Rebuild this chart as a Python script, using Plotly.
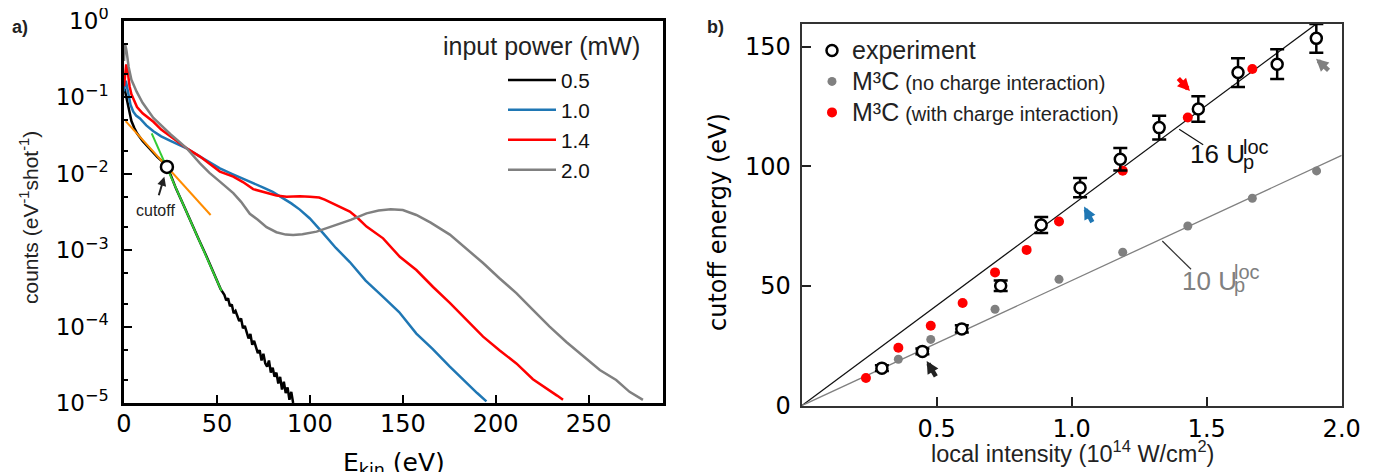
import plotly.graph_objects as go

# The page adds an 8 px body margin; the figure is sized so that it fills the window.
OFF = 8
W, H = 1369, 464


def px(x):
    return (x - OFF) / W


def py(y):
    return 1 - (y - OFF) / H


# ---------------- Panel a: photoelectron spectra ----------------
e_05 = [0.3, 1.0, 2.0, 3.0, 4.0, 5.5, 7, 10, 14, 18, 21, 23, 25, 28, 32, 36, 40, 44, 48, 52,
        54, 55, 56, 57, 58, 59, 60, 61, 62, 63, 64, 65, 66, 67, 68, 69, 70, 71, 72, 73, 74, 75,
        76, 77, 78, 79, 80, 81, 82, 83, 84, 85, 86, 87, 88, 89, 90, 91]
c_05 = [0.13, 0.11, 0.085, 0.062, 0.049, 0.040, 0.034, 0.027, 0.021, 0.0166, 0.0142, 0.0123,
        0.0098, 0.0064, 0.0039, 0.0023, 0.00142, 0.00087, 0.00053, 0.00031,
        2.6e-4, 2.2e-4, 2.35e-4, 1.85e-4, 1.95e-4, 1.5e-4, 1.6e-4, 1.35e-4, 1.18e-4, 1.28e-4,
        9.5e-5, 1.02e-4, 8.3e-5, 7.0e-5, 8.0e-5, 5.8e-5, 6.5e-5, 5.2e-5, 4.5e-5, 4.9e-5,
        3.6e-5, 4.4e-5, 3.3e-5, 3.0e-5, 3.6e-5, 2.5e-5, 2.9e-5, 2.2e-5, 2.5e-5, 1.8e-5,
        2.2e-5, 1.5e-5, 1.9e-5, 1.35e-5, 1.6e-5, 1.1e-5, 1.4e-5, 1.0e-5]

e_10 = [0.0, 0.5, 1.1, 2.3, 3.5, 5.0, 6.5, 8.6, 12, 15.8, 20, 25, 30, 33.7, 40.9, 46, 51.6,
        58, 63, 69.5, 75, 80, 85.6, 90, 94.6, 100, 107.2, 114, 121.5, 130, 139.4, 148, 157.3,
        166, 175.3, 184, 190, 195]
c_10 = [0.12, 0.16, 0.16, 0.107, 0.08, 0.065, 0.058, 0.053, 0.043, 0.036, 0.031, 0.027, 0.024,
        0.0216, 0.0168, 0.0142, 0.0118, 0.0100, 0.0089, 0.0076, 0.0066, 0.0058, 0.0048, 0.0041,
        0.0034, 0.0026, 0.00166, 0.00107, 0.00070, 0.00040, 0.000245, 0.000155, 0.000081,
        0.000051, 0.000030, 0.0000185, 0.0000135, 0.0000105]

e_14 = [0.0, 0.5, 1.2, 2.0, 3.0, 4.0, 5.0, 7, 10, 15.8, 20, 25, 30, 33.7, 40.9, 46, 51.6, 58.8,
        64, 69.5, 76.7, 82, 87.5, 94.6, 100, 105, 108, 112.5, 117, 121.5, 126, 130.5, 139.4,
        148.4, 157.3, 166.3, 175.3, 184, 193.2, 202, 211.1, 220, 229, 233, 236.2]
c_14 = [0.14, 0.2, 0.27, 0.22, 0.14, 0.11, 0.097, 0.075, 0.062, 0.048, 0.038, 0.031, 0.025,
        0.0216, 0.0168, 0.0135, 0.0107, 0.0092, 0.0078, 0.0063, 0.0056, 0.0052, 0.0050,
        0.0051, 0.0050, 0.0049, 0.0046, 0.0041, 0.0036, 0.0032, 0.0026, 0.00204, 0.00143,
        0.00082, 0.00055, 0.00033, 0.000205, 0.000123, 0.000074, 0.000049, 0.000033,
        0.0000205, 0.0000148, 0.0000125, 0.000011]

e_20 = [0.0, 0.5, 1.0, 1.4, 2.5, 4.0, 6.8, 10, 15.8, 20, 25, 30, 33.7, 40.9, 46, 51.6, 58.8, 63,
        67.7, 72, 76.7, 82, 87, 91, 96, 103.6, 110, 116.1, 122, 130.5, 137, 143.5, 150, 157.3,
        165, 175.3, 184, 193.2, 202, 211.1, 220, 229, 238, 247, 256, 264.8, 272, 279.2]
c_20 = [0.3, 0.5, 0.45, 0.40, 0.25, 0.17, 0.119, 0.085, 0.054, 0.043, 0.033, 0.026, 0.0216,
        0.0137, 0.0103, 0.0079, 0.0056, 0.0043, 0.0030, 0.0025, 0.0020, 0.00172, 0.00160,
        0.00158, 0.00162, 0.00175, 0.00197, 0.00225, 0.0025, 0.00304, 0.0033, 0.00343,
        0.00335, 0.00289, 0.00230, 0.00160, 0.00105, 0.00068, 0.00043, 0.000275, 0.000165,
        0.000100, 0.000063, 0.000041, 0.000027, 0.000020, 0.000014, 0.000011]

fit_low_e = [0.9, 46.6]
fit_low_c = [0.049, 0.00289]
fit_high_e = [14.9, 52.5]
fit_high_c = [0.0339, 0.000292]
cutoff_e = [23.1]
cutoff_c = [0.0123]

log_tickvals = [1e-5, 1e-4, 1e-3, 1e-2, 1e-1, 1]
log_ticktext = ["10<sup>−5</sup>", "10<sup>−4</sup>", "10<sup>−3</sup>", "10<sup>−2</sup>",
                "10<sup>−1</sup>", "10<sup>0</sup>"]

spectra = [("0.5", e_05, c_05, "#000000"),
           ("1.0", e_10, c_10, "#1f77b4"),
           ("1.4", e_14, c_14, "#ff0000"),
           ("2.0", e_20, c_20, "#808080")]

# ---------------- Panel b: cutoff energies ----------------
exp_int = [0.297, 0.447, 0.593, 0.737, 0.887, 1.031, 1.18, 1.324, 1.469, 1.616, 1.761, 1.906]
exp_cut = [15.7, 22.7, 32.1, 50.1, 75.5, 91.1, 103.0, 116.2, 124.0, 139.2, 142.7, 153.5]
exp_err = [1.2, 1.2, 1.5, 2.2, 3.3, 4.0, 4.7, 5.0, 5.3, 6.0, 6.2, 6.0]

nci_int = [0.358, 0.478, 0.716, 0.953, 1.189, 1.43, 1.669, 1.907]
nci_cut = [19.4, 27.7, 40.3, 52.8, 64.1, 75.1, 86.7, 98.1]

wci_int = [0.238, 0.358, 0.478, 0.596, 0.716, 0.833, 0.953, 1.189, 1.43, 1.669]
wci_cut = [11.6, 24.2, 33.4, 42.9, 55.7, 65.1, 77.0, 98.2, 120.4, 140.7]

up16_int = [0.0, 2.0]
up16_cut = [0.0, 167.4]
up10_int = [0.0, 2.0]
up10_cut = [0.0, 104.6]

fig = go.Figure()

for name, x, y, col in spectra:
    fig.add_trace(go.Scatter(x=x, y=y, mode="lines", name=name,
                             line=dict(color=col, width=2.5),
                             xaxis="x", yaxis="y", legend="legend"))
fig.add_trace(go.Scatter(x=fit_low_e, y=fit_low_c, mode="lines", showlegend=False,
                         line=dict(color="#ff8c00", width=2), xaxis="x", yaxis="y"))
fig.add_trace(go.Scatter(x=fit_high_e, y=fit_high_c, mode="lines", showlegend=False,
                         line=dict(color="#33cc33", width=2), xaxis="x", yaxis="y"))
fig.add_trace(go.Scatter(x=cutoff_e, y=cutoff_c, mode="markers", showlegend=False,
                         marker=dict(symbol="circle", size=12, color="white",
                                     line=dict(color="black", width=2.5)),
                         xaxis="x", yaxis="y"))

fig.add_trace(go.Scatter(x=up16_int, y=up16_cut, mode="lines", showlegend=False,
                         line=dict(color="#111111", width=1.3), xaxis="x2", yaxis="y2"))
fig.add_trace(go.Scatter(x=up10_int, y=up10_cut, mode="lines", showlegend=False,
                         line=dict(color="#808080", width=1.3), xaxis="x2", yaxis="y2"))
fig.add_trace(go.Scatter(x=nci_int, y=nci_cut, mode="markers", legend="legend2",
                         name="<span style='font-size:25px'>M³C</span> "
                              "<span style='font-size:20px'>(no charge interaction)</span>",
                         marker=dict(color="#808080", size=9), xaxis="x2", yaxis="y2"))
fig.add_trace(go.Scatter(x=wci_int, y=wci_cut, mode="markers", legend="legend2",
                         name="<span style='font-size:25px'>M³C</span> "
                              "<span style='font-size:20px'>(with charge interaction)</span>",
                         marker=dict(color="#ff0000", size=10), xaxis="x2", yaxis="y2"))
fig.add_trace(go.Scatter(x=exp_int, y=exp_cut, mode="markers", legend="legend2",
                         name="<span style='font-size:25px'>experiment</span>", legendrank=1,
                         error_y=dict(type="data", array=exp_err, color="black",
                                      thickness=2.5, width=7),
                         marker=dict(symbol="circle", size=11, color="white",
                                     line=dict(color="black", width=2.5)),
                         xaxis="x2", yaxis="y2"))

tickfont = dict(family="DejaVu Sans", size=24, color="black")
sans = "Liberation Sans"

fig.update_layout(
    width=W, height=H,
    margin=dict(l=0, r=0, t=0, b=0),
    paper_bgcolor="white", plot_bgcolor="white",
    showlegend=True,
    xaxis=dict(domain=[px(124), px(663)], range=[0, 290], tickvals=[0, 50, 100, 150, 200, 250],
               ticks="inside", ticklen=8, tickwidth=2, tickcolor="black",
               showline=True, linecolor="black", linewidth=2.5, mirror=True,
               showgrid=False, zeroline=False, tickfont=tickfont, ticklabelstandoff=-3,
               automargin=False),
    yaxis=dict(domain=[py(403), py(21)], type="log", range=[-5, 0.0005],
               tickvals=log_tickvals, ticktext=log_ticktext, ticklabeloverflow="allow",
               ticks="inside", ticklen=8, tickwidth=2, tickcolor="black",
               minor=dict(ticks="inside", ticklen=4, tickwidth=1.5, tickcolor="black"),
               showline=True, linecolor="black", linewidth=2.5, mirror=True,
               showgrid=False, zeroline=False,
               tickfont=dict(family="DejaVu Sans", size=23, color="black"), ticklabelstandoff=8,
               automargin=False),
    xaxis2=dict(domain=[px(801.7), px(1341.7)], range=[0, 2.0], tickvals=[0.5, 1.0, 1.5, 2.0],
                ticktext=["0.5", "1.0", "1.5", "2.0"], ticklabeloverflow="allow",
                ticks="inside", ticklen=9, tickwidth=2, tickcolor="#222222",
                showline=True, linecolor="#333333", linewidth=2, mirror=True,
                showgrid=False, zeroline=False, tickfont=tickfont, ticklabelstandoff=0,
                automargin=False, anchor="y2"),
    yaxis2=dict(domain=[py(405.7), py(24)], range=[0, 159.5],
                tickvals=[0, 50, 100, 150],
                ticks="inside", ticklen=9, tickwidth=2, tickcolor="#222222",
                showline=True, linecolor="#333333", linewidth=2, mirror=True,
                showgrid=False, zeroline=False, tickfont=tickfont, ticklabelstandoff=4,
                automargin=False, anchor="x2"),
    legend=dict(x=px(503), y=py(60), xanchor="left", yanchor="top",
                bgcolor="rgba(0,0,0,0)", font=dict(family=sans, size=20.7, color="#111111"),
                itemwidth=48, tracegroupgap=0),
    legend2=dict(x=px(812), y=py(30), xanchor="left", yanchor="top",
                 bgcolor="rgba(0,0,0,0)", font=dict(family=sans, size=21.5, color="#222222"),
                 itemwidth=30, tracegroupgap=0),
)

ann = []
# axis titles (placed exactly)
ann.append(dict(text="E<sub>kin</sub> (eV)", x=px(393.5), y=py(464),
                xref="paper", yref="paper", xanchor="center", yanchor="middle",
                showarrow=False, font=dict(family="DejaVu Sans", size=25, color="black")))
ann.append(dict(text="local intensity (10<sup>14</sup> W/cm<sup>2</sup>)", x=px(1072), y=py(452),
                xref="paper", yref="paper", xanchor="center", yanchor="middle",
                showarrow=False, font=dict(family=sans, size=23.5, color="#222222")))
ann.append(dict(text="counts (eV<sup>-1</sup>shot<sup>-1</sup>)", x=px(29), y=py(218),
                xref="paper", yref="paper", xanchor="center", yanchor="middle",
                textangle=-90, showarrow=False,
                font=dict(family=sans, size=21, color="#222222")))
ann.append(dict(text="cutoff energy (eV)", x=px(718), y=py(222),
                xref="paper", yref="paper", xanchor="center", yanchor="middle",
                textangle=-90, showarrow=False,
                font=dict(family="DejaVu Sans", size=24, color="black")))
# panel labels
ann.append(dict(text="<b>a)</b>", x=px(10), y=py(27), xref="paper", yref="paper",
                xanchor="left", yanchor="middle", showarrow=False,
                font=dict(family=sans, size=18, color="#222222")))
ann.append(dict(text="<b>b)</b>", x=px(705), y=py(27), xref="paper", yref="paper",
                xanchor="left", yanchor="middle", showarrow=False,
                font=dict(family=sans, size=18, color="#222222")))
# legend title panel a
ann.append(dict(text="input power (mW)", x=px(441), y=py(46), xref="paper", yref="paper",
                xanchor="left", yanchor="middle", showarrow=False,
                font=dict(family=sans, size=25, color="#222222")))
# cutoff arrow + text
ann.append(dict(text="", x=21.7, y=-2.038, xref="x", yref="y", ax=-6, ay=20,
                showarrow=True, arrowhead=2, arrowsize=0.9, arrowwidth=2, arrowcolor="#222222",
                standoff=0, startstandoff=0, font=dict(size=1)))
ann.append(dict(text="cutoff", x=16.7, y=-2.474, xref="x", yref="y", showarrow=False,
                font=dict(family=sans, size=16, color="#222222")))
# arrows panel b
for hx, hy, ax_, ay_, col in [(0.463, 18.7, 10, 17, "#222222"),
                              (1.046, 83.2, 9, 17, "#1f77b4"),
                              (1.438, 131.5, -13, -14, "#ff0000"),
                              (1.905, 145.0, 14, 13, "#808080")]:
    ann.append(dict(text="", x=hx, y=hy, xref="x2", yref="y2", ax=ax_, ay=ay_,
                    showarrow=True, arrowhead=2, arrowsize=0.55, arrowwidth=4.5, arrowcolor=col,
                    standoff=0, startstandoff=0, font=dict(size=1)))
# Up labels
for x0, yb, base, col in [(1.431, 105.2, "16 U", "#111111"),
                          (1.401, 52.0, "10 U", "#808080")]:
    ann.append(dict(text=base, x=x0, y=yb, xref="x2", yref="y2", xanchor="left",
                    yanchor="middle", showarrow=False,
                    font=dict(family=sans, size=26, color=col)))
for x0, y0, t, col in [(1.627, 108.1, "loc", "#111111"), (1.627, 101.8, "p", "#111111"),
                       (1.594, 55.8, "loc", "#808080"), (1.594, 50.4, "p", "#808080")]:
    ann.append(dict(text=t, x=x0, y=y0, xref="x2", yref="y2", xanchor="left",
                    yanchor="middle", showarrow=False, font=dict(family=sans, size=20, color=col)))
fig.update_layout(annotations=ann)

fig.update_layout(shapes=[
    dict(type="line", xref="x2", yref="y2", x0=1.398, y0=115.5, x1=1.487, y1=109.0,
         line=dict(color="#111111", width=1.2)),
    dict(type="line", xref="x2", yref="y2", x0=1.3356, y0=68.8, x1=1.442, y1=57.0,
         line=dict(color="#333333", width=1.2)),
])

fig.write_html("out.html")
